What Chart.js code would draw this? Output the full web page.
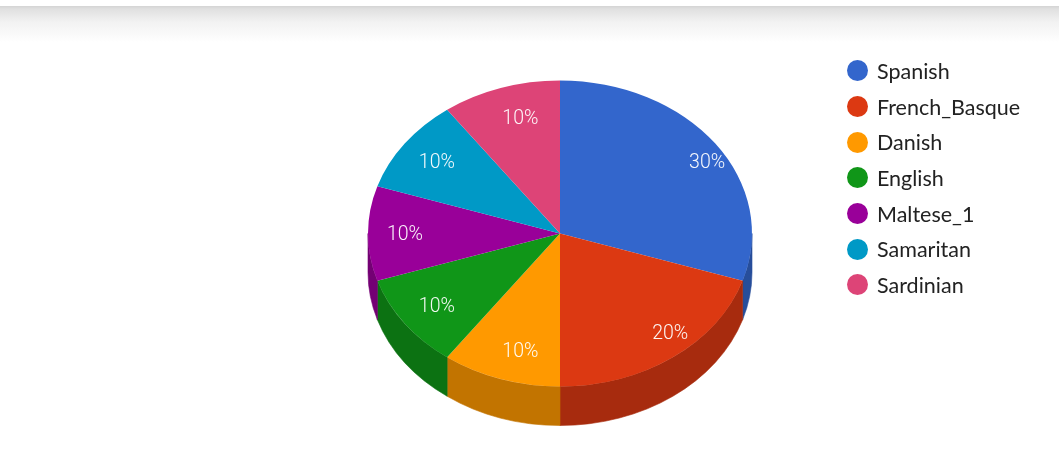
<!DOCTYPE html>
<html><head><meta charset="utf-8">
<script src="https://cdn.jsdelivr.net/npm/chart.js@4"></script>
<style>
html,body{margin:0;padding:0;background:#fff;width:1059px;height:450px;overflow:hidden}
#wrap{position:relative;width:1059px;height:450px}
#shadow{position:absolute;left:0;top:6px;width:1059px;height:36px;background:linear-gradient(to bottom,#d4d4d4 0px,#e0e0e0 3px,#f2f2f2 16px,#fcfcfc 32px,#fff 36px)}
#c{position:absolute;left:0;top:0}
#legend{position:absolute;left:847px;top:53px;font-family:Lato,"Noto Sans",sans-serif;font-size:21.5px;color:#222}
.row{height:35.7px;display:flex;align-items:center;white-space:nowrap}
.dot{width:21px;height:21px;border-radius:50%;margin-right:9px;flex:none}
</style></head>
<body><div id="wrap"><div id="shadow"></div><canvas id="c" width="1059" height="450"></canvas><div id="legend"></div></div>
<script>
const categories = ["Spanish","French_Basque","Danish","English","Maltese_1","Samaritan","Sardinian"];
const values = [3, 2, 1, 1, 1, 1, 1];
const colors = ["#3366cc","#dc3912","#ff9900","#109618","#990099","#0099c6","#dd4477"];

const TILT = 153/192;   // vertical squash of the pie face
const DEPTH = 39;       // thickness of the 3D wall

function darken(hex, f){
  const n = parseInt(hex.slice(1),16);
  const r = Math.round(((n>>16)&255)*f), g = Math.round(((n>>8)&255)*f), b = Math.round((n&255)*f);
  return `rgb(${r},${g},${b})`;
}

const pie3d = {
  id: 'pie3d',
  beforeDatasetsDraw(chart){
    const ctx = chart.ctx;
    const arcs = chart.getDatasetMeta(0).data;
    if(!arcs.length) return;
    const cx = arcs[0].x, cy = arcs[0].y, rx = arcs[0].outerRadius, ry = rx*TILT;
    ctx.save();
    arcs.forEach((arc,i)=>{
      for (const base of [-2*Math.PI, 0, 2*Math.PI]) {
        const a = Math.max(arc.startAngle, base), b = Math.min(arc.endAngle, base+Math.PI);
        if (b <= a) continue;
        ctx.beginPath();
        ctx.ellipse(cx, cy, rx, ry, 0, a, b, false);
        ctx.ellipse(cx, cy+DEPTH, rx, ry, 0, b, a, true);
        ctx.closePath();
        ctx.fillStyle = darken(colors[i], 0.76);
        ctx.fill();
        ctx.strokeStyle = darken(colors[i], 0.76);
        ctx.lineWidth = 0.6;
        ctx.stroke();
      }
    });
    ctx.restore();
    ctx.save();
    ctx.translate(cx, cy);
    ctx.scale(1, TILT);
    ctx.translate(-cx, -cy);
  },
  afterDatasetsDraw(chart){
    const ctx = chart.ctx;
    ctx.restore();
    const arcs = chart.getDatasetMeta(0).data;
    if(!arcs.length) return;
    const cx = arcs[0].x, cy = arcs[0].y, rx = arcs[0].outerRadius, ry = rx*TILT;
    const total = values.reduce((s,v)=>s+v,0);
    ctx.save();
    ctx.font = '300 19.5px Roboto';
    ctx.fillStyle = 'rgba(255,255,255,0.95)';
    ctx.textAlign = 'center';
    ctx.textBaseline = 'middle';
    arcs.forEach((arc,i)=>{
      const m = (arc.startAngle+arc.endAngle)/2;
      const x = cx + 12 + 0.87*rx*Math.cos(m);
      const y = cy + 2 + 0.80*ry*Math.sin(m);
      ctx.fillText(Math.round(values[i]/total*100)+'%', x, y);
    });
    ctx.restore();
  }
};

new Chart(document.getElementById('c'), {
  type: 'pie',
  data: { labels: categories, datasets: [{ data: values, backgroundColor: colors, borderWidth: 0, hoverOffset: 0 }] },
  options: {
    responsive: false, animation: false, events: [],
    layout: { padding: { left: 368, right: 307, top: 41.5, bottom: 24.5 } },
    plugins: { legend: { display: false }, tooltip: { enabled: false } }
  },
  plugins: [pie3d]
});

const lg = document.getElementById('legend');
categories.forEach((c,i)=>{
  const r = document.createElement('div'); r.className='row';
  const d = document.createElement('div'); d.className='dot'; d.style.background = colors[i];
  const t = document.createElement('span'); t.textContent = c;
  r.appendChild(d); r.appendChild(t); lg.appendChild(r);
});
</script></body></html>
